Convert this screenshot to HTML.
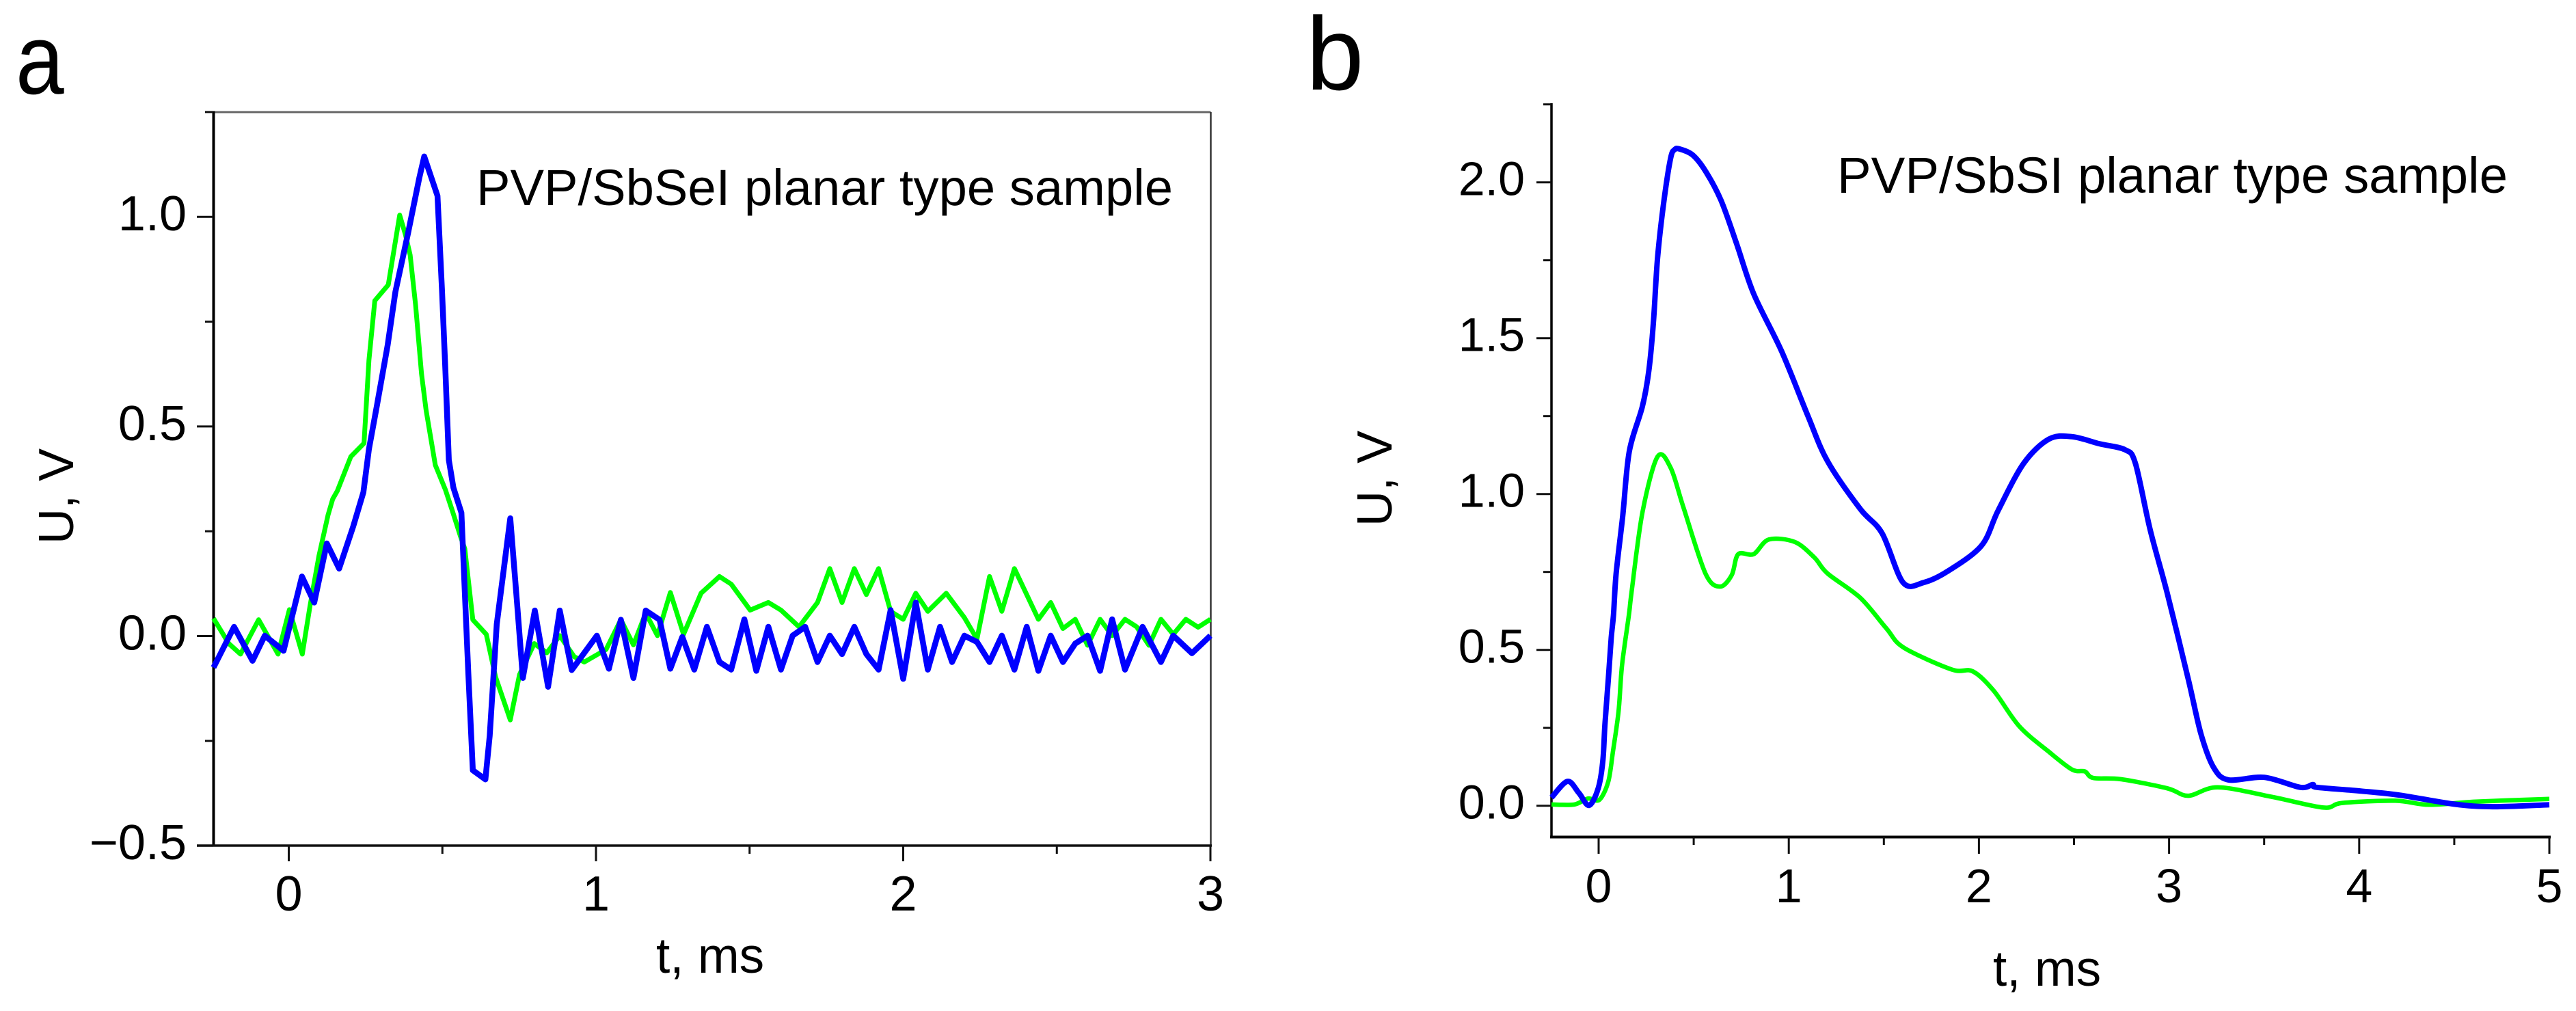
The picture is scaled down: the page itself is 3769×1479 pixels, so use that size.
<!DOCTYPE html>
<html lang="en">
<head>
<meta charset="utf-8">
<title>PVP/SbSeI and PVP/SbSI planar type samples</title>
<style>
html,body{margin:0;padding:0;background:#fff;}
svg{display:block;}
text{font-family:"Liberation Sans",Arial,sans-serif;fill:#000;}
</style>
</head>
<body>
<svg id="figure" xmlns="http://www.w3.org/2000/svg" width="3769" height="1479" viewBox="0 0 3769 1479">
  <rect x="0" y="0" width="3769" height="1479" fill="#fff"/>
  <text transform="translate(23 137) scale(0.87 1)" font-size="146">a</text>
  <text x="1911" y="131" font-size="152">b</text>
  <text x="697" y="300" font-size="74" textLength="1019" lengthAdjust="spacingAndGlyphs">PVP/SbSeI planar type sample</text>
  <text x="2688" y="282" font-size="74" textLength="981" lengthAdjust="spacingAndGlyphs">PVP/SbSI planar type sample</text>
  <text transform="translate(107 726) rotate(-90)" text-anchor="middle" font-size="72">U, V</text>
  <text transform="translate(2036 700) rotate(-90)" text-anchor="middle" font-size="72">U, V</text>
  <text x="960" y="1423" font-size="73">t, ms</text>
  <text x="2916" y="1442" font-size="73">t, ms</text>
  <g id="panel-a"></g>
  <g id="panel-b"></g>
</svg>
<script>
const aBlueT = [-0.245,-0.178,-0.118,-0.078,-0.017,0.043,0.083,0.124,0.164,0.21,0.243,0.261,0.287,0.322,0.347,0.388,0.425,0.441,0.484,0.499,0.51,0.521,0.536,0.562,0.573,0.584,0.599,0.64,0.654,0.677,0.721,0.744,0.762,0.801,0.844,0.882,0.921,1.003,1.042,1.081,1.122,1.162,1.207,1.242,1.281,1.32,1.361,1.402,1.44,1.483,1.522,1.561,1.602,1.64,1.681,1.721,1.761,1.801,1.841,1.88,1.92,1.959,2.0,2.041,2.08,2.12,2.159,2.199,2.24,2.281,2.321,2.362,2.402,2.44,2.48,2.52,2.56,2.6,2.641,2.68,2.722,2.779,2.839,2.879,2.94,3.0];
const aBlueU = [-0.075,0.022,-0.059,0.001,-0.035,0.142,0.08,0.221,0.161,0.262,0.343,0.446,0.55,0.694,0.821,0.96,1.093,1.144,1.05,0.821,0.632,0.42,0.354,0.294,0.104,-0.081,-0.32,-0.342,-0.238,0.028,0.281,0.071,-0.1,0.061,-0.121,0.061,-0.081,0.001,-0.078,0.039,-0.1,0.061,0.039,-0.078,-0.002,-0.08,0.022,-0.062,-0.08,0.04,-0.083,0.022,-0.08,0.001,0.022,-0.062,0.001,-0.043,0.022,-0.043,-0.08,0.062,-0.102,0.08,-0.08,0.022,-0.062,0.001,-0.014,-0.062,0.001,-0.08,0.022,-0.083,0.001,-0.062,-0.018,0.001,-0.083,0.04,-0.08,0.022,-0.062,0.001,-0.041,0.001];
const aGreenT = [-0.245,-0.195,-0.157,-0.098,-0.035,0.002,0.044,0.069,0.098,0.128,0.143,0.158,0.202,0.245,0.261,0.28,0.324,0.361,0.38,0.395,0.413,0.432,0.447,0.477,0.51,0.532,0.558,0.573,0.599,0.643,0.673,0.721,0.751,0.799,0.84,0.882,0.929,0.962,1.033,1.081,1.122,1.162,1.2,1.242,1.285,1.342,1.402,1.44,1.502,1.561,1.602,1.661,1.721,1.761,1.801,1.841,1.88,1.92,1.959,2.0,2.041,2.08,2.14,2.199,2.24,2.281,2.321,2.362,2.44,2.48,2.52,2.56,2.6,2.641,2.68,2.722,2.76,2.8,2.839,2.879,2.92,2.96,3.0];
const aGreenU = [0.042,-0.018,-0.043,0.039,-0.043,0.063,-0.043,0.071,0.191,0.289,0.327,0.346,0.428,0.46,0.658,0.8,0.838,1.004,0.957,0.909,0.789,0.626,0.539,0.408,0.349,0.3,0.24,0.208,0.039,0.004,-0.097,-0.2,-0.092,-0.018,-0.04,0.001,-0.049,-0.062,-0.032,0.039,-0.021,0.055,0.001,0.104,0.004,0.102,0.142,0.124,0.062,0.08,0.062,0.022,0.08,0.161,0.08,0.161,0.099,0.161,0.059,0.04,0.102,0.059,0.102,0.044,-0.007,0.142,0.059,0.161,0.04,0.08,0.018,0.04,-0.022,0.04,0.001,0.04,0.022,-0.022,0.04,0.004,0.04,0.021,0.04];
const bBlueT = [-0.248,-0.164,-0.104,-0.05,-0.002,0.022,0.033,0.051,0.066,0.078,0.092,0.127,0.161,0.23,0.264,0.288,0.31,0.344,0.379,0.4,0.425,0.494,0.562,0.643,0.723,0.815,0.963,1.101,1.204,1.376,1.491,1.601,1.709,1.835,2.013,2.101,2.235,2.368,2.49,2.635,2.768,2.823,2.901,2.99,3.101,3.168,3.234,3.312,3.501,3.69,3.756,3.778,4.011,4.212,4.5,4.7,5.0];
const bBlueU = [0.026,0.078,0.041,0.001,0.056,0.143,0.26,0.407,0.538,0.611,0.745,0.931,1.136,1.281,1.395,1.55,1.757,1.943,2.078,2.105,2.107,2.088,2.036,1.943,1.808,1.643,1.457,1.25,1.105,0.952,0.874,0.716,0.716,0.752,0.834,0.947,1.098,1.176,1.184,1.161,1.142,1.098,0.884,0.683,0.406,0.23,0.123,0.083,0.091,0.059,0.068,0.059,0.047,0.034,0.005,-0.003,0.003];
const bGreenT = [-0.248,-0.128,-0.056,0.004,0.051,0.075,0.105,0.123,0.159,0.173,0.23,0.31,0.379,0.447,0.562,0.638,0.7,0.734,0.815,0.895,1.032,1.135,1.204,1.376,1.513,1.605,1.857,1.968,2.079,2.212,2.368,2.49,2.557,2.601,2.746,2.99,3.101,3.257,3.545,3.812,3.912,4.19,4.367,4.612,5.0];
const bGreenU = [0.004,0.004,0.023,0.019,0.078,0.173,0.304,0.45,0.611,0.684,0.94,1.12,1.084,0.955,0.745,0.703,0.74,0.807,0.807,0.854,0.846,0.796,0.745,0.667,0.569,0.507,0.437,0.431,0.368,0.255,0.173,0.116,0.11,0.089,0.085,0.056,0.032,0.059,0.028,-0.006,0.009,0.016,0.003,0.013,0.022];

const aXMajor = [0,1,2,3];
const aXMinor = [0.5,1.5,2.5];
const aYMajor = [-0.5,0,0.5,1];
const aYMinor = [-0.25,0.25,0.75,1.25];
const aYLabels = ["\u22120.5","0.0","0.5","1.0"];
const bXMajor = [0,1,2,3,4,5];
const bXMinor = [0.5,1.5,2.5,3.5,4.5];
const bYMajor = [0,0.5,1,1.5,2];
const bYMinor = [0.25,0.75,1.25,1.75,2.25];
const bYLabels = ["0.0","0.5","1.0","1.5","2.0"];

const NS = "http://www.w3.org/2000/svg";

function scaleAX(t){ return 422.5 + t * 449.5; }
function scaleAY(u){ return 930.5 - u * 613.3; }
function scaleBX(t){ return 2339 + t * 278.2; }
function scaleBY(u){ return 1178.7 - u * 456; }

function line(parent, x1, y1, x2, y2, color, width){
  const el = document.createElementNS(NS, "line");
  el.setAttribute("x1", x1);
  el.setAttribute("y1", y1);
  el.setAttribute("x2", x2);
  el.setAttribute("y2", y2);
  el.setAttribute("stroke", color);
  el.setAttribute("stroke-width", width);
  parent.appendChild(el);
  return el;
}

function label(parent, x, y, str, anchor, size){
  const el = document.createElementNS(NS, "text");
  el.setAttribute("x", x);
  el.setAttribute("y", y);
  el.setAttribute("text-anchor", anchor);
  el.setAttribute("font-size", size);
  el.textContent = str;
  parent.appendChild(el);
  return el;
}

function series(parent, ts, us, sx, sy, color, width){
  const el = document.createElementNS(NS, "polyline");
  el.setAttribute("points", ts.map(function(t, i){ return sx(t).toFixed(1) + "," + sy(us[i]).toFixed(1); }).join(" "));
  el.setAttribute("fill", "none");
  el.setAttribute("stroke", color);
  el.setAttribute("stroke-width", width);
  el.setAttribute("stroke-linejoin", "round");
  parent.appendChild(el);
  return el;
}

/* Smooth curve through every sample (panel b traces are smooth in the source). */
function smoothSeries(parent, ts, us, sx, sy, color, width){
  const pts = ts.map(function(t, i){ return [sx(t), sy(us[i])]; });
  const k = 0.16;
  let d = "M" + pts[0][0].toFixed(1) + " " + pts[0][1].toFixed(1);
  for (let i = 0; i < pts.length - 1; i++) {
    const p0 = pts[Math.max(i - 1, 0)];
    const p1 = pts[i];
    const p2 = pts[i + 1];
    const p3 = pts[Math.min(i + 2, pts.length - 1)];
    const c1x = p1[0] + (p2[0] - p0[0]) * k;
    const c1y = p1[1] + (p2[1] - p0[1]) * k;
    const c2x = p2[0] - (p3[0] - p1[0]) * k;
    const c2y = p2[1] - (p3[1] - p1[1]) * k;
    d += "C" + c1x.toFixed(1) + " " + c1y.toFixed(1) + " " + c2x.toFixed(1) + " " + c2y.toFixed(1) + " " + p2[0].toFixed(1) + " " + p2[1].toFixed(1);
  }
  const el = document.createElementNS(NS, "path");
  el.setAttribute("d", d);
  el.setAttribute("fill", "none");
  el.setAttribute("stroke", color);
  el.setAttribute("stroke-width", width);
  el.setAttribute("stroke-linejoin", "round");
  parent.appendChild(el);
  return el;
}

const gA = document.getElementById("panel-a");
const gB = document.getElementById("panel-b");

/* panel a frame */
const aTop = line(gA, 312.5, 164, 1771.5, 164, "#666", 3);


const aRight = line(gA, 1771.5, 164, 1771.5, 1237, "#333", 2.5);


const aLeft = line(gA, 312.5, 162.5, 312.5, 1238.5, "#000", 4);


const aBottom = line(gA, 288, 1237, 1773, 1237, "#111", 3.5);



aXMajor.forEach(function(v){
  const tick = line(gA, scaleAX(v), 1237, scaleAX(v), 1260, "#111", 3);
  
  
  const lab = label(gA, scaleAX(v), 1332, String(v), "middle", 72);
  
  
});
aXMinor.forEach(function(v){
  const tick = line(gA, scaleAX(v), 1237, scaleAX(v), 1249, "#111", 3);
  
  
});
aYMajor.forEach(function(v, i){
  const tick = line(gA, 288, scaleAY(v), 312, scaleAY(v), "#111", 3);
  
  
  const lab = label(gA, 273, scaleAY(v) + 20, aYLabels[i], "end", 72);
  
  
});
aYMinor.forEach(function(v){
  const tick = line(gA, 300, scaleAY(v), 312, scaleAY(v), "#111", 3);
  
  
});
const aGreenLine = series(gA, aGreenT, aGreenU, scaleAX, scaleAY, "#00ff00", 7);


const aBlueLine = series(gA, aBlueT, aBlueU, scaleAX, scaleAY, "#0000ff", 8.5);



/* panel b frame */
const bLeft = line(gB, 2270, 151, 2270, 1226, "#000", 3.5);


const bBottom = line(gB, 2268, 1224.5, 3732, 1224.5, "#000", 4);



bXMajor.forEach(function(v){
  const tick = line(gB, scaleBX(v), 1224.5, scaleBX(v), 1249, "#111", 3);
  
  
  const lab = label(gB, scaleBX(v), 1320, String(v), "middle", 70);
  
  
});
bXMinor.forEach(function(v){
  const tick = line(gB, scaleBX(v), 1224.5, scaleBX(v), 1236, "#111", 3);
  
  
});
bYMajor.forEach(function(v, i){
  const tick = line(gB, 2248, scaleBY(v), 2270, scaleBY(v), "#111", 3);
  
  
  const lab = label(gB, 2231, scaleBY(v) + 19, bYLabels[i], "end", 70);
  
  
});
bYMinor.forEach(function(v){
  const tick = line(gB, 2258, scaleBY(v), 2270, scaleBY(v), "#111", 3);
  
  
});
const bGreenLine = smoothSeries(gB, bGreenT, bGreenU, scaleBX, scaleBY, "#00ff00", 6.5);


const bBlueLine = smoothSeries(gB, bBlueT, bBlueU, scaleBX, scaleBY, "#0000ff", 8);


</script>
</body>
</html>
